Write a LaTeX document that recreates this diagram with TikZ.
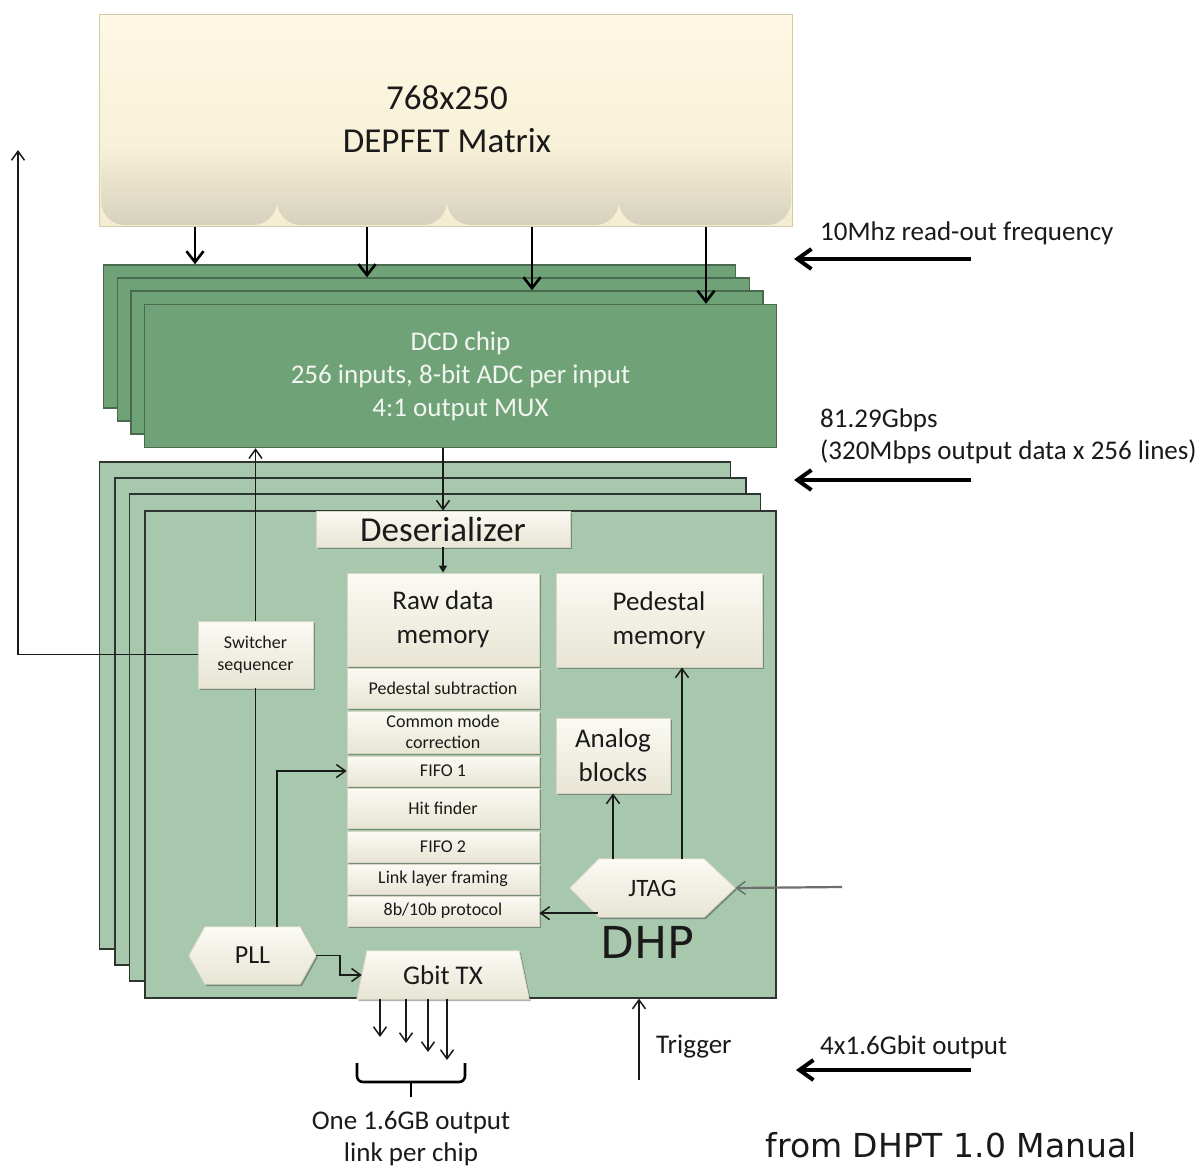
\documentclass[tikz,border=0pt]{standalone}
\usepackage{fontspec}
\setmainfont{Carlito}
\newfontfamily\notefont{DejaVu Sans}
\usetikzlibrary{arrows.meta,shadows,calc}

\definecolor{ink}{HTML}{1A1A1A}
\definecolor{creamtop}{HTML}{FBFAF4}
\definecolor{creambot}{HTML}{E8E5D4}
\definecolor{creamedge}{HTML}{D9D5C3}
\definecolor{matrixtop}{HTML}{FEF8E4}
\definecolor{matrixbot}{HTML}{F4EDD2}
\definecolor{tabtop}{HTML}{F8F1D8}
\definecolor{tabbot}{HTML}{D6D1BD}
\definecolor{matrixedge}{HTML}{D3CBA6}
\definecolor{dcdfill}{HTML}{6FA377}
\definecolor{dcdedge}{HTML}{4A6A4F}
\definecolor{dcdtext}{HTML}{F2F5F0}
\definecolor{dhpfill}{HTML}{A8C8AE}
\definecolor{dhpedge}{HTML}{2E3430}
\definecolor{jtagin}{HTML}{6E6E6E}

\newcommand{\fsz}[2]{\fontsize{#1}{#2}\selectfont}

\begin{document}
\begin{tikzpicture}[x=1pt,y=-1pt,
  every node/.style={text=ink, inner sep=0pt},
  softshadow/.style={drop shadow={shadow xshift=1.6pt, shadow yshift=-1.8pt, opacity=0.3, fill=black}},
  cream/.style={draw=creamedge, line width=0.8pt, top color=creamtop, bottom color=creambot, softshadow},
  stage/.style={cream, align=center, minimum width=192, font=\fsz{18}{21}},
  titlebox/.style={cream, align=center, font=\fsz{27}{34}},
  dcdlayer/.style={draw=dcdedge, line width=1.4pt, fill=dcdfill, minimum width=632, minimum height=143},
  dhplayer/.style={draw=dhpedge, line width=1.2pt, fill=dhpfill, minimum width=631, minimum height=487},
  wire/.style={line width=1.6pt, draw=ink},
  conn/.style={wire, -{Straight Barb[length=9pt,width=13pt,line width=1.5pt]}},
  feed/.style={line width=2.6pt, -{Straight Barb[length=11pt,width=17pt]}},
  rate/.style={line width=4pt, -{Straight Barb[length=14pt,width=20pt]}},
  sidetext/.style={font=\fsz{27}{32}},
]
\fill[white] (0,0) rectangle (1201,1167);
\useasboundingbox (0,0) rectangle (1201,1167);

% ---------------- DEPFET matrix ----------------
\node[draw=matrixedge, line width=1pt, top color=matrixtop, bottom color=matrixbot,
      minimum width=693, minimum height=212] (matrix) at (445.5,120) {};
\foreach \xl/\xr in {101/277, 277/447, 447/619, 619/791}{
  \shade[top color=tabtop, bottom color=tabbot]
    (\xl,145) -- (\xl,201) arc[start angle=180, end angle=90, radius=24]
    -- (\xr-24,225) arc[start angle=90, end angle=0, radius=24] -- (\xr,145) -- cycle;
}
\node[font=\fsz{35}{43}, align=center] (matrixlabel) at (447,119.5) {768x250\\DEPFET Matrix};

% ---------------- DCD stack ----------------
\node[dcdlayer] (dcd1) at (419.5,336.5) {};
\node[dcdlayer] (dcd2) at (433.5,349.5) {};
\node[dcdlayer] (dcd3) at (447,362.5) {};
\node[dcdlayer, text=dcdtext, align=center, font=\fsz{27}{33}] (dcd4) at (460.5,376)
  {DCD chip\\256 inputs, 8-bit ADC per input\\4:1 output MUX};

\coordinate (f1) at (195,0);
\coordinate (f2) at (367,0);
\coordinate (f3) at (532,0);
\coordinate (f4) at (706,0);
\draw[feed] (matrix.south -| f1) -- (dcd1.north -| f1);
\draw[feed] (matrix.south -| f2) -- (dcd2.north -| f2);
\draw[feed] (matrix.south -| f3) -- (dcd3.north -| f3);
\draw[feed] (matrix.south -| f4) -- (dcd4.north -| f4);

% ---------------- DHP stack ----------------
\node[dhplayer] (dhp1) at (415,705.5) {};
\node[dhplayer] (dhp2) at (430.5,721.5) {};
\node[dhplayer] (dhp3) at (445,737.5) {};
\node[dhplayer] (dhp4) at (460.5,754.5) {};

\node[cream, font=\fsz{35}{40}, minimum width=254, minimum height=36] (deser) at (443,529) {Deserializer};

% processing chain
\node[titlebox, minimum width=192, minimum height=93] (raw) at (443,619.5) {Raw data\\memory};
\node[stage, minimum height=40] (pedsub) at (443,688) {Pedestal subtraction};
\node[stage, minimum height=42] (cmc) at (443,732) {Common mode\\correction};
\node[stage, minimum height=30] (fifo1) at (443,771) {FIFO 1};
\node[stage, minimum height=40] (hitf) at (443,808) {Hit finder};
\node[stage, minimum height=31] (fifo2) at (443,846.5) {FIFO 2};
\node[stage, minimum height=30] (llf) at (443,879) {Link layer framing};
\node[stage, minimum height=30] (enc) at (443,911) {8b/10b protocol};

\node[titlebox, minimum width=206, minimum height=94] (pedmem) at (659,620) {Pedestal\\memory};
\node[titlebox, minimum width=114, minimum height=75] (analog) at (613,755.5) {Analog\\blocks};
\node[cream, align=center, font=\fsz{18}{22}, minimum width=115, minimum height=67] (switcher) at (255.5,654.5) {Switcher\\sequencer};

% PLL hexagon
\node[minimum width=127, minimum height=57] (pll) at (252.5,955.5) {};
\shade[cream] (pll.west) -- ($(pll.north west)+(16,0)$) -- ($(pll.north east)+(-16,0)$)
  -- (pll.east) -- ($(pll.south east)+(-16,0)$) -- ($(pll.south west)+(16,0)$) -- cycle;
\node[font=\fsz{26}{30}] (plltext) at (pll) {PLL};

% JTAG hexagon
\node[minimum width=165, minimum height=58] (jtag) at (652.5,888) {};
\shade[cream] (jtag.west) -- ($(jtag.north west)+(29,0)$) -- ($(jtag.north east)+(-31,0)$)
  -- (jtag.east) -- ($(jtag.south east)+(-31,0)$) -- ($(jtag.south west)+(29,0)$) -- cycle;
\node[font=\fsz{25}{30}] (jtagtext) at (jtag) {JTAG};

% Gbit transmitter
\node[minimum width=162, minimum height=48] (gbittx) at (443,975) {};
\shade[cream] ($(gbittx.north west)+(5,0)$) -- ($(gbittx.north east)+(-5,0)$)
  -- ($(gbittx.south east)+(5,0)$) -- ($(gbittx.south west)+(-5,0)$) -- cycle;
\node[font=\fsz{27}{30}] (gbittext) at (gbittx) {Gbit TX};

\node[font=\notefont\fsz{44}{50}] (dhplabel) at (647,942) {DHP};

% ---------------- connections ----------------
\draw[conn] (dcd4.south -| deser.north) -- (deser.north);
\draw[wire, -{Triangle[length=7pt,width=8pt]}] (deser.south) -- (raw.north);

\draw[wire] (pll.north -| switcher) -- (switcher.south);
\draw[conn] (switcher.north) -- (dcd4.south -| switcher.north);
\coordinate (swup) at (18,150);
\draw[conn] (switcher.west) -| (swup);

\coordinate (pllfifo) at ($(pll.north)+(24.5,0)$);
\draw[conn] (pllfifo) |- (fifo1.west);
\draw[conn] (pll.east) -- ++(24,0) |- (gbittx.west);

\coordinate (out1) at (380,1037);
\coordinate (out2) at (406,1043);
\coordinate (out3) at (428,1052);
\coordinate (out4) at (447,1060);
\draw[conn] (gbittx.south -| out1) -- (out1);
\draw[conn] (gbittx.south -| out2) -- (out2);
\draw[conn] (gbittx.south -| out3) -- (out3);
\draw[conn] (gbittx.south -| out4) -- (out4);
\draw[line width=2.6pt, rounded corners=6] (357,1063) -- (357,1082) -- (465,1082) -- (465,1063);
\draw[line width=2.6pt] (411,1082) -- (411,1097);
\node[sidetext, align=center] (chiptext) at (411,1139) {One 1.6GB output\\link per chip};

\draw[conn] (jtag.north -| analog.south) -- (analog.south);
\coordinate (jtagpm) at ($(jtag.north)+(29.5,0)$);
\draw[conn] (jtagpm) -- (jtagpm |- pedmem.south);
\coordinate (jtagenc) at ($(jtag.south west)+(28,-4)$);
\draw[conn] (jtagenc) -- (jtagenc -| enc.east);
\coordinate (jtagsrc) at (842,887);
\draw[conn, draw=jtagin, line width=2.2pt] (jtagsrc) -- (jtag.east);

\coordinate (trigsrc) at (639,1080);
\draw[conn] (trigsrc) -- (trigsrc |- dhp4.south);
\node[sidetext, anchor=west] (trigtext) at (656,1047) {Trigger};

% ---------------- data rates ----------------
\coordinate (rateA) at (971,259);
\coordinate (rateAend) at (794,259);
\draw[rate] (rateA) -- (rateAend);
\node[sidetext, anchor=west] (freqtext) at (820,233) {10Mhz read-out frequency};

\coordinate (rateB) at (971,480);
\coordinate (rateBend) at (794,480);
\draw[rate] (rateB) -- (rateBend);
\node[sidetext, anchor=west, align=left] (bwtext) at (820,436) {81.29Gbps\\(320Mbps output data x 256 lines)};

\coordinate (rateC) at (971,1070);
\coordinate (rateCend) at (796,1070);
\draw[rate] (rateC) -- (rateCend);
\node[sidetext, anchor=west] (linktext) at (820,1047) {4x1.6Gbit output};

\node[font=\notefont\fsz{33}{38}] (sourcetext) at (951,1145) {from DHPT 1.0 Manual};
\end{tikzpicture}
\end{document}
